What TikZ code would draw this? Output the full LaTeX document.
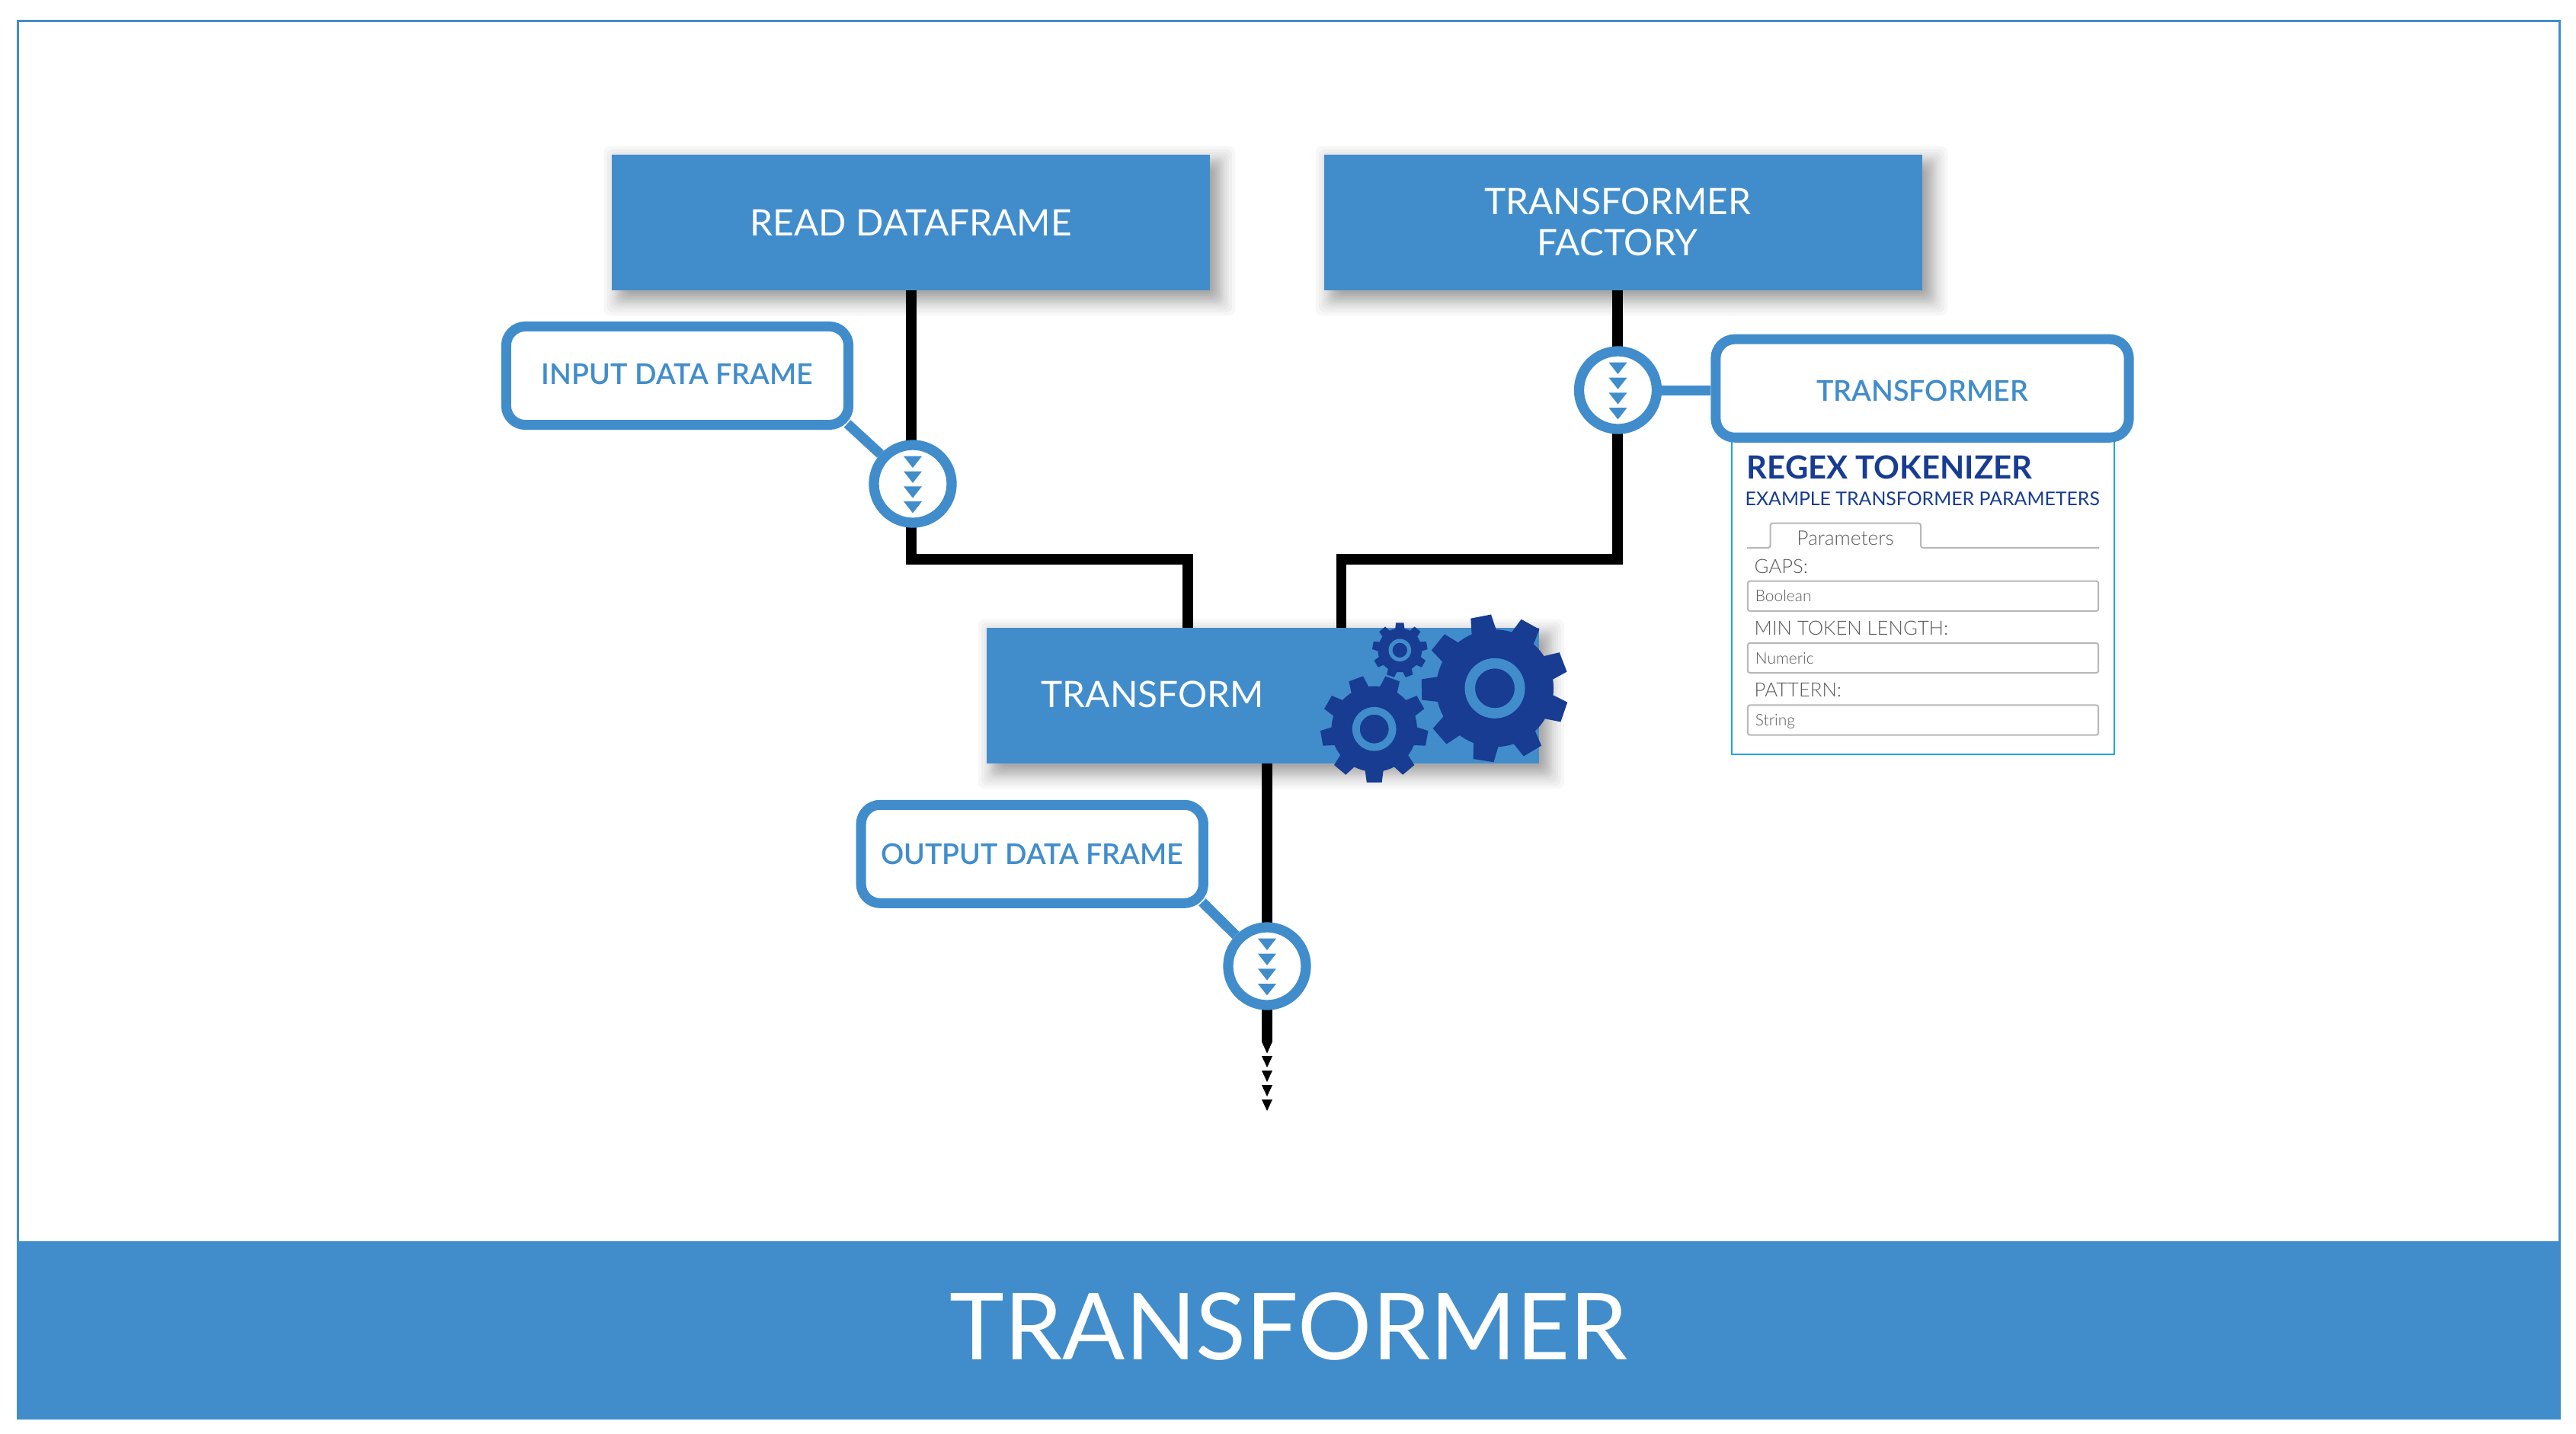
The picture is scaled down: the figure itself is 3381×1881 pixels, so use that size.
\documentclass[tikz,border=0pt]{standalone}
\usepackage{fontspec}
\usepackage{xcolor}
\usepackage{tikz}
\usetikzlibrary{backgrounds}
\setmainfont{Lato}
\newfontfamily\lightface{Lato Light}
\newfontfamily\strongface{Lato Semibold}
\definecolor{flowblue}{RGB}{65,141,204}
\definecolor{gearblue}{RGB}{23,60,146}
\definecolor{sheetblue}{RGB}{29,167,224}
\definecolor{fieldgray}{RGB}{184,184,184}
\definecolor{fieldtext}{RGB}{90,90,90}
\tikzstyle{panel}=[rectangle,fill=flowblue,text=white,inner sep=0pt,outer sep=0pt,font=\fontsize{13.6}{15.3}\selectfont]
\tikzstyle{pill}=[rectangle,draw=flowblue,fill=white,line width=.13cm,rounded corners=.25cm,minimum width=4.49cm,minimum height=1.29cm,text=flowblue,inner sep=0pt,text height=.28cm,font=\strongface\fontsize{10.7}{13}\selectfont]
\tikzstyle{tap}=[circle,draw=flowblue,fill=white,line width=.133cm,minimum size=1.02cm,inner sep=0pt]
\tikzstyle{wire}=[black,line width=.135cm]
\tikzstyle{feed}=[flowblue,line width=.13cm]
\tikzstyle{field}=[rectangle,draw=fieldgray,line width=.02cm,rounded corners=.03cm,minimum width=4.6cm,minimum height=.393cm,text width=4.4cm,align=left,inner xsep=.1cm,inner ysep=0pt,text height=.15cm,text depth=0pt,text=fieldtext,font=\lightface\fontsize{5.95}{7}\selectfont]
\tikzstyle{fieldname}=[anchor=base west,inner sep=0pt,text=fieldtext,font=\lightface\fontsize{7.3}{9}\selectfont]
\newcommand{\flowmarks}[1]{\foreach \k in {0,1,2,3} \fill[flowblue] ([shift={(-12,-36.3+19.8*\k)}]#1.center) -- ++(24,0) -- ++(-12,15.3) -- cycle;}
\newcommand{\gearwheel}[4]{
\begin{scope}[shift={(#1,#2)},scale=#3]
\fill[gearblue] (0,0) circle (77);
\foreach \k in {0,...,8} \fill[gearblue,rotate=#4+40*\k] (74,-16.5) -- (96,-13.6) -- (96,13.6) -- (74,16.5) -- cycle;
\fill[flowblue,even odd rule] (0,0) circle (39.5) circle (26);
\end{scope}}
\begin{document}
\begin{tikzpicture}[x=0.01cm,y=-0.01cm]
\useasboundingbox (0,0) rectangle (3381,1881);
\draw[flowblue,line width=.03cm] (23.5,27.5) rectangle (3359,1861);
\node[panel,minimum width=33.35cm,minimum height=2.32cm,text height=.875cm,text depth=.095cm,font=\fontsize{34.55}{40}\selectfont] (banner) at (1691.5,1745) {TRANSFORMER};
\node[panel,minimum width=7.844cm,minimum height=1.78cm] (readframe) at (1195.8,292) {READ DATAFRAME};
\node[panel,minimum width=7.85cm,minimum height=1.78cm] (factory) at (2130.5,292) {};
\node[inner sep=0pt,align=center,text=white,font=\fontsize{13.6}{15.3}\selectfont] (factorytext) at (2123,291) {TRANSFORMER\\FACTORY};
\node[panel,minimum width=7.246cm,minimum height=1.785cm,text width=5.814cm,align=left,text height=.35cm,text depth=.046cm] (transform) at (1657.3,912.8) {TRANSFORM};
\node[pill,text depth=.06cm] (inputframe) at (889,493) {INPUT DATA FRAME};
\node[pill,text depth=.016cm] (outputframe) at (1354.8,1120.8) {OUTPUT DATA FRAME};
\node[tap] (inputtap) at (1198,635) {};
\node[tap] (factorytap) at (2123.5,512) {};
\node[tap] (outputtap) at (1663,1268) {};
\flowmarks{inputtap}
\flowmarks{factorytap}
\flowmarks{outputtap}
\gearwheel{1962}{903.3}{1}{-19}
\gearwheel{1803.7}{956.7}{.73}{-10}
\gearwheel{1837.3}{853.3}{.375}{-30}
\node[rectangle,draw=sheetblue,line width=.025cm,fill=white,minimum width=5.016cm,minimum height=4.3cm,inner sep=0pt] (sheet) at (2523.8,775) {};
\node[pill,minimum width=5.42cm,text height=.33cm,text depth=0pt] (transformer) at (2523,509.7) {TRANSFORMER};
\node[anchor=base west,inner sep=0pt,text=gearblue,font=\bfseries\fontsize{11.9}{14}\selectfont] (sheettitle) at (2292,628) {REGEX TOKENIZER};
\node[anchor=base west,inner sep=0pt,text=gearblue,font=\fontsize{7.06}{9}\selectfont] (sheetnote) at (2290,663.4) {EXAMPLE TRANSFORMER PARAMETERS};
\draw[fieldgray,line width=.02cm,rounded corners=.03cm] (2293,719) -- (2323.6,719) -- (2323.6,686.7) -- (2521,686.7) -- (2521,719) -- (2755,719);
\node[anchor=base,inner sep=0pt,text=fieldtext,font=\lightface\fontsize{7.5}{9}\selectfont] (tabtext) at (2422,715.4) {Parameters};
\node[fieldname] (gapsname) at (2302,752) {GAPS:};
\node[field] (gapsfield) at (2524,782.3) {Boolean};
\node[fieldname] (lengthname) at (2302,833.3) {MIN TOKEN LENGTH:};
\node[field] (lengthfield) at (2524,863.5) {Numeric};
\node[fieldname] (patternname) at (2302,914.5) {PATTERN:};
\node[field] (patternfield) at (2524,945) {String};
\coordinate (leftbend) at (1559,734);
\coordinate (rightbend) at (1760.5,734);
\coordinate (tail) at (1663,1368);
\begin{scope}[on background layer]
\foreach \p in {readframe,factory,transform}
\foreach \g in {-22,-18,-14,-11,-8,-6,-4,-2,0,2,4,6,8,11,14,18,22}
\fill[black,opacity=.03,rounded corners=.08cm] ([shift={(11-\g,11-\g)}]\p.north west) rectangle ([shift={(11+\g,11+\g)}]\p.south east);
\draw[wire] (readframe.south) |- (leftbend) -- (leftbend |- transform.north);
\draw[wire] (factorytext |- factory.south) |- (rightbend) -- (rightbend |- transform.north);
\draw[wire] (transform.south -| outputtap) -- (tail);
\draw[feed] (inputframe.south east) ++(-8,-8) -- (inputtap);
\draw[feed] (outputframe.south east) ++(-8,-8) -- (outputtap);
\draw[feed] (factorytap) -- (factorytap -| transformer.west);
\end{scope}
\fill[black] (tail) ++(-6.8,-.5) -- ++(13.6,0) -- ++(-6.8,15) -- cycle;
\foreach \k in {0,1,2,3} \fill[black] ([shift={(-7,18+19*\k)}]tail) -- ++(14,0) -- ++(-7,15) -- cycle;
\end{tikzpicture}
\end{document}
